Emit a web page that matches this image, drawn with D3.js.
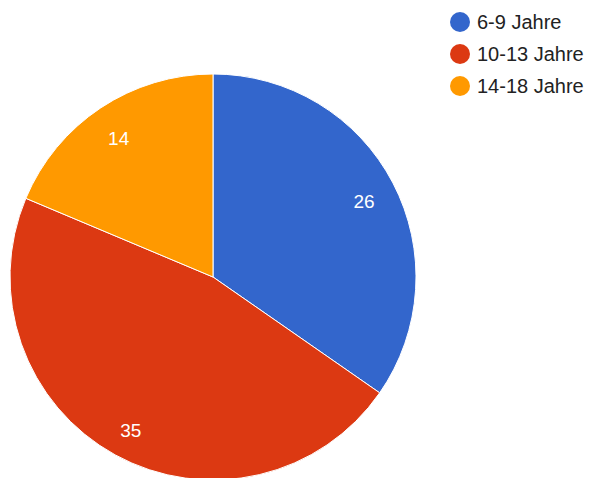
<!DOCTYPE html>
<html><head><meta charset="utf-8">
<script src="https://cdn.jsdelivr.net/npm/d3@7"></script>
<style>body{margin:0;background:#fff}svg{display:block}</style>
</head><body>
<script>
const categories = ["6-9 Jahre", "10-13 Jahre", "14-18 Jahre"];
const values = [26, 35, 14];
const colors = ["#3366cc", "#dc3912", "#ff9900"];

const W = 590, H = 478;
const cx = 213, cy = 277, R = 203;
const svg = d3.select("body").append("svg").attr("width", W).attr("height", H);
const data = categories.map((c, i) => ({c, v: values[i], col: colors[i]}));
const pie = d3.pie().value(d => d.v).sort(null);
const arc = d3.arc().innerRadius(0).outerRadius(R);
const labelArc = d3.arc().innerRadius(R * 0.84).outerRadius(R * 0.84);
const g = svg.append("g").attr("transform", `translate(${cx},${cy})`);
const arcs = pie(data);
g.selectAll("path").data(arcs).join("path")
  .attr("d", arc).attr("fill", d => d.data.col)
  .attr("stroke", "#fff").attr("stroke-width", 1);
g.selectAll("text").data(arcs).join("text")
  .attr("transform", d => `translate(${labelArc.centroid(d)})`)
  .attr("text-anchor", "middle").attr("dy", "0.7em").attr("y", -3)
  .attr("fill", "#fff").attr("font-family", "Arial, 'Liberation Sans', sans-serif")
  .attr("font-size", 19).text(d => d.data.v);

const leg = svg.append("g");
const ly = d3.scalePoint().domain(categories).range([22, 86]);
const items = leg.selectAll("g").data(data).join("g")
  .attr("transform", d => `translate(460,${ly(d.c)})`);
items.append("circle").attr("r", 10).attr("fill", d => d.col);
items.append("text").attr("x", 17).attr("dominant-baseline", "central")
  .attr("font-family", "Arial, 'Liberation Sans', sans-serif").attr("font-size", 20)
  .attr("fill", "#222").text(d => d.c);
</script>
</body></html>
